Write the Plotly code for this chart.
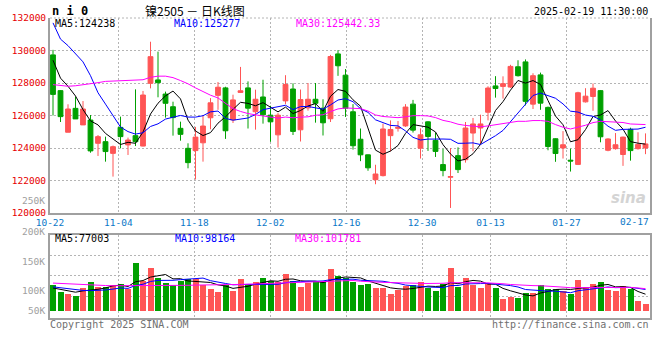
import plotly.graph_objects as go

# ---------------- data ----------------
dates = ["10-22","10-23","10-24","10-25","10-28","10-29","10-30","10-31","11-01","11-04",
         "11-05","11-06","11-07","11-08","11-11","11-12","11-13","11-14","11-15","11-18",
         "11-19","11-20","11-21","11-22","11-25","11-26","11-27","11-28","11-29","12-02",
         "12-03","12-04","12-05","12-06","12-09","12-10","12-11","12-12","12-13","12-16",
         "12-17","12-18","12-19","12-20","12-23","12-24","12-25","12-26","12-27","12-30",
         "12-31","01-02","01-03","01-06","01-07","01-08","01-09","01-10","01-13","01-14",
         "01-15","01-16","01-17","01-20","01-21","01-22","01-23","01-24","01-27","02-05",
         "02-06","02-07","02-10","02-11","02-12","02-13","02-14","02-17","02-18","02-19"]

opens = [129730,127530,124970,126440,125420,125720,124290,124390,123670,125270,
         124190,124760,124120,127980,128190,127320,126540,125210,123980,123840,
         124320,125860,127240,127700,125730,127420,127700,126230,127140,126020,
         124810,126900,127630,125120,126470,127000,126450,125800,129790,128480,
         126230,124540,123580,122050,122300,124760,125210,125360,126700,123990,
         125610,124470,122980,122200,123530,123280,124920,125230,126200,127820,
         127790,127750,129000,129300,126700,128500,126500,124570,124000,123250,
         122990,126840,127170,127530,123860,123960,123600,125150,123960,124000]
highs = [130040,127560,126690,127160,126890,126030,124800,124700,124150,125930,
         124640,127610,127510,130540,129930,127470,126850,125620,124290,125300,
         126000,127070,128060,127770,127280,128990,128100,127590,128200,126600,
         126150,128480,127980,127600,128000,128000,127000,129730,130020,128860,
         126700,125200,123600,122970,125500,125700,125660,126700,126960,125210,
         125650,124950,123950,124000,124040,125600,125850,126050,127800,128420,
         128410,129120,129400,129450,128600,128640,126550,124600,125040,123960,
         127460,127680,127970,127570,124600,124920,124700,125250,124970,124900]
lows = [126000,125600,124970,125790,125420,123710,123510,123160,122240,123980,
        123570,124120,124100,127670,127120,125870,124760,124450,122750,122060,
        123160,125150,126350,124560,125540,127400,125200,125130,125500,124380,
        124030,126700,124800,124400,126300,125560,124770,125600,128440,125910,
        123900,123190,122600,121770,122250,123790,125010,125300,124950,123350,
        123820,123450,122260,120310,122460,123100,123800,124250,125700,127100,
        127040,127700,128400,126620,126400,126350,123860,123150,123350,122550,
        122950,126800,126290,124350,123800,123900,122900,123220,123900,123620]
closes = [127300,125930,126400,125790,126400,123820,124700,123780,124080,124700,
          124490,124390,127260,129620,128020,126750,125870,124840,123100,124670,
          125350,126780,127740,125060,126960,127520,126450,127000,126040,125610,
          126020,127910,125020,126980,127000,126750,125550,129630,129060,126450,
          124140,123580,122780,122400,125170,125140,125270,126520,125100,124810,
          124710,123790,122610,122240,122670,125230,125480,125480,127690,127660,
          127960,129020,128450,126870,128450,126760,124090,123660,124200,123200,
          127400,127190,127680,124690,124555,124200,124670,123840,124220,124250]

ma5 = [129400,128300,127800,127200,126364,125668,125422,124898,124556,124216,
       124350,124288,124984,126092,126756,127208,127504,127020,125716,125046,
       124766,124948,125528,125920,126378,126812,126746,126598,126794,126524,
       126224,126516,126120,126308,126586,126732,126260,127182,127598,127488,
       126966,126572,125202,123870,123614,123814,124152,124900,125440,125368,
       125282,124986,124204,123632,123204,123308,123646,124220,125310,126308,
       126854,127562,128156,127992,128150,127910,126924,125966,125432,124382,
       124510,125130,125934,126032,126303,125663,125159,124391,124297,124238]
ma10 = [131700,130700,130300,129800,129300,128450,127400,126700,126000,125290,
        125009,124855,124941,125324,125486,125779,125896,126002,125904,125901,
        125987,126226,126274,125818,125712,125789,125847,126063,126357,126451,
        126518,126631,126359,126551,126555,126478,126388,126651,126953,127037,
        126849,126416,126192,125734,125551,125390,125362,125051,124655,124491,
        124548,124569,124552,124536,124286,124295,124316,124212,124471,124756,
        125081,125604,126188,126651,127229,127382,127243,127061,126712,126266,
        126210,126027,125950,125732,125343,125087,125145,125163,125165,125277]
ma30 = [127900,127850,127800,127830,127880,127950,128020,128100,128120,128120,
        128130,128150,128200,128350,128420,128420,128330,128150,127950,127700,
        127450,127250,127080,126770,126420,126250,126120,126040,125960,125881,
        125838,125904,125858,125898,125918,126015,126044,126239,126405,126463,
        126451,126424,126275,126034,125939,125886,125866,125922,125988,125993,
        125972,125872,125701,125607,125464,125388,125355,125305,125360,125428,
        125493,125530,125644,125640,125689,125689,125640,125441,125279,125171,
        125280,125400,125563,125640,125619,125588,125568,125479,125449,125442]

# volume, in thousands of lots
volumes = [118,89,77,71,105,132,110,108,117,122,
           100,218,135,195,152,128,120,138,145,145,
           119,101,85,119,92,145,122,132,150,138,
           133,168,138,110,127,135,135,189,161,152,
           131,118,122,104,104,80,97,112,120,132,
           105,90,122,195,108,150,120,106,128,106,
           55,66,59,82,84,120,102,102,90,77,
           143,110,122,134,94,90,115,102,45,33]
vol_ma5 = [105,98,92,86,92.0,94.8,99.0,105.2,114.4,117.8,
           111.4,133.0,138.4,154.0,160.0,165.6,146.0,146.6,136.6,135.2,
           133.4,129.6,119.0,113.8,103.2,108.4,112.6,122.0,128.2,137.4,
           135.0,144.2,145.4,137.4,135.2,135.6,129.0,139.2,149.4,154.4,
           153.6,150.2,136.8,125.4,115.8,105.6,101.4,99.4,102.6,108.2,
           113.2,111.8,113.8,128.8,124.0,133.0,139.0,135.8,122.4,122.0,
           103.0,92.2,82.8,73.6,69.2,82.2,89.4,98.0,99.6,98.2,
           102.8,104.4,108.4,117.2,120.6,110.0,111.0,107.0,89.2,77.0]
vol_ma10 = [110,106,101,97,94,93,94,96,100,104.9,
            103.1,116.0,121.8,134.2,138.9,138.5,139.5,142.5,145.3,147.6,
            149.5,137.8,132.8,125.2,119.2,120.9,121.1,120.5,121.0,120.3,
            121.7,128.4,133.7,132.8,136.3,135.3,136.6,142.3,143.4,144.8,
            144.6,139.6,138.0,137.4,135.1,129.6,125.8,118.1,114.0,112.0,
            109.4,106.6,106.6,115.7,116.1,123.1,125.4,124.8,125.6,123.0,
            118.0,115.6,109.3,98.0,95.6,92.6,90.8,90.4,86.6,83.7,
            92.5,96.9,103.2,108.4,109.4,106.4,107.7,107.7,103.2,98.2]
vol_ma30 = [127,125,123,121,119,118,117,116,115,115,
            114,114,114,115,115,116,116,117,117,118,
            118,119,119,120,120,121,122,123,124,124.3,
            124.8,127.4,129.4,130.7,131.5,131.6,132.4,135.1,136.6,137.6,
            138.6,135.3,134.8,131.8,130.2,128.6,127.8,127.0,126.1,125.7,
            125.2,124.9,126.1,128.6,129.2,129.3,129.3,128.4,127.7,126.6,
            124.0,120.6,118.0,117.0,115.6,115.1,114.0,111.1,108.7,106.2,
            106.6,106.4,106.4,107.4,107.0,107.4,108.0,107.6,105.1,101.8]

label_dates = ["10-22","11-04","11-18","12-02","12-16","12-30","01-13","01-27","02-17"]
price_ticks = [120000,122000,124000,126000,128000,130000,132000]
price_tick_text = ["120000","122000","124000","126000","128000","130000","132000"]
vol_tick_text = ["250K","200K","150K","100K","50K"]

# ---------------- layout helpers ----------------
W, H = 660, 360
ML, MR, MT, MB = 50, 10, 18, 42
PW, PH = W - ML - MR, H - MT - MB


def fx(px):  # pixel -> paper fraction
    return (px - ML) / PW


def fy(py):
    return (H - MB - py) / PH


RED = "#ff5555"
GREEN = "#00a000"
GRID = "#b4b4b4"
BORDER = "#a0a0a0"
MONO = "DejaVu Sans Mono, monospace"

N = len(dates)
xs = list(range(N))
SLOT = 7.5
X0 = -0.4
x_range = [X0, X0 + PW / SLOT]


def grid_pos(i):
    return X0 + i * N / (N - 1)


label_idx = [dates.index(d) for d in label_dates]
tick_pos = [grid_pos(i) for i in label_idx[:-1]]
tick_txt = label_dates[:-1]

# volume axis: 4500 lots per px, zero at y=311.3px
VSCALE = 4.5
v_zero_px = 311.3
v_top_px, v_bot_px = 234.9, 318.0
vol_range = [-(v_bot_px - v_zero_px) * VSCALE, (v_zero_px - v_top_px) * VSCALE]
vol_grid = [(v_zero_px - p) * VSCALE for p in (255.3, 275.7, 296.1)]
vol_label_px = [200.7, 231.0, 261.0, 290.0, 310.0]

bar_colors = [RED if c >= o else GREEN for o, c in zip(opens, closes)]

fig = go.Figure()
fig.add_trace(go.Candlestick(
    x=xs, open=opens, high=highs, low=lows, close=closes,
    increasing=dict(line=dict(color=RED, width=1), fillcolor=RED),
    decreasing=dict(line=dict(color=GREEN, width=1), fillcolor=GREEN),
    whiskerwidth=0, xaxis="x", yaxis="y", hoverinfo="skip", showlegend=False))
for series, col in ((ma5, "#000000"), (ma10, "#0000ff"), (ma30, "#ff00ff")):
    fig.add_trace(go.Scatter(x=xs, y=series, mode="lines", line=dict(color=col, width=1),
                             xaxis="x", yaxis="y", hoverinfo="skip", showlegend=False))

fig.add_trace(go.Bar(x=xs, y=volumes, marker=dict(color=bar_colors, line=dict(width=0)),
                     width=0.8, xaxis="x2", yaxis="y2", hoverinfo="skip", showlegend=False))
for series, col in ((vol_ma5, "#000000"), (vol_ma10, "#0000ff"), (vol_ma30, "#ff00ff")):
    fig.add_trace(go.Scatter(x=xs, y=series, mode="lines", line=dict(color=col, width=1),
                             xaxis="x2", yaxis="y2", hoverinfo="skip", showlegend=False))

axis_common = dict(showline=True, linecolor=BORDER, linewidth=2, zeroline=False, ticks="",
                   gridcolor=GRID, gridwidth=1, griddash="2px,2px", automargin=False)

fig.update_layout(
    width=W, height=H,
    margin=dict(l=ML, r=MR, t=MT, b=MB, pad=0, autoexpand=False),
    paper_bgcolor="white", plot_bgcolor="white",
    boxgap=0.36, boxgroupgap=0, bargap=0,
    showlegend=False, hovermode=False,
    font=dict(family=MONO, size=10, color="#000"),
    xaxis=dict(domain=[0, 1], anchor="y", range=x_range, rangeslider=dict(visible=False),
               tickmode="array", tickvals=tick_pos, ticktext=tick_txt, showgrid=True,
               tickfont=dict(family=MONO, size=9.5, color="#0a78c8"), mirror=False,
               **axis_common),
    yaxis=dict(domain=[fy(213), fy(18)], anchor="x", range=[120000, 132000],
               tickmode="array", tickvals=price_ticks, ticktext=price_tick_text,
               showgrid=True, mirror=True,
               tickfont=dict(family=MONO, size=9.5, color="#e60000"), **axis_common),
    xaxis2=dict(domain=[0, 1], anchor="y2", matches="x", range=x_range,
                tickmode="array", tickvals=tick_pos, showticklabels=False, showgrid=True,
                mirror=True, **axis_common),
    yaxis2=dict(domain=[0, fy(v_top_px)], anchor="x2", range=vol_range,
                tickmode="array", tickvals=vol_grid, showticklabels=False, showgrid=True,
                mirror=True, **axis_common),
)

# dotted top border of the price panel
fig.add_shape(type="line", xref="x domain", yref="y domain", x0=0, x1=1, y0=1, y1=1,
              line=dict(color=GRID, width=1, dash="2px,2px"))

ann = []


def text(px, py, s, color="#000", size=10, anchor="left", family=MONO, **kw):
    ann.append(dict(x=fx(px), y=fy(py), xref="paper", yref="paper", text=s, showarrow=False,
                    xanchor=anchor, yanchor="middle",
                    font=dict(family=family, size=size, color=color, **kw)))


text(50, 11, "<b>n i 0</b>", size=12)
text(195, 11, "镍2505 － 日K线图", size=12, anchor="center", family="Noto Sans CJK SC")
text(650, 12, "2025-02-19 11:30:00", anchor="right")
text(53, 23.5, "MA5:124238")
text(172, 23.5, "MA10:125277", color="#0000ff")
text(294, 23.5, "MA30:125442.33", color="#ff00ff")
text(53, 238.5, "MA5:77003")
text(173, 238.5, "MA10:98164", color="#0000ff")
text(293, 238.5, "MA30:101781", color="#ff00ff")
for s, p in zip(vol_tick_text, vol_label_px):
    text(47, p, s, color="#a0a0a0", size=9.5, anchor="right")
text(651, 221.5, label_dates[-1], color="#0a78c8", size=9.5, anchor="right")
text(48, 324.5, "Copyright 2025 SINA.COM", color="#707070")
text(651, 324.5, "http://finance.sina.com.cn", color="#707070", anchor="right")
text(648, 198, "<b><i>sina</i></b>", color="#d4d4d4", size=15, anchor="right",
     family="DejaVu Sans")
fig.update_layout(annotations=ann)

# remove the browser's default 8px page margin so the chart sits at the window's corner
fig.write_html("out.html", config={"displayModeBar": False, "staticPlot": True},
               post_script="document.body.style.margin='0';")
